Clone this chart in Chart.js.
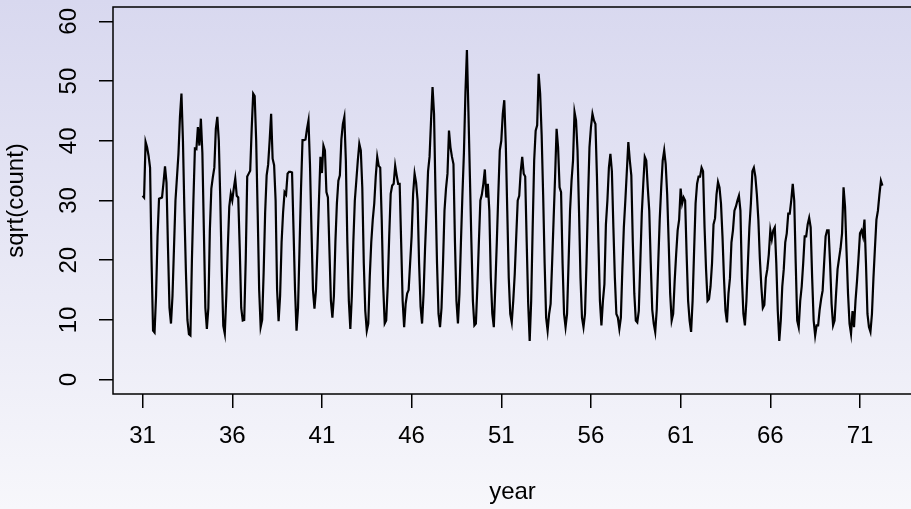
<!DOCTYPE html>
<html>
<head>
<meta charset="utf-8">
<script src="https://cdn.jsdelivr.net/npm/chart.js@4/dist/chart.umd.min.js"></script>
<style>
	html, body {
		margin: 0;
		padding: 0;
		width: 911px;
		height: 509px;
		overflow: hidden;
		background: linear-gradient(to bottom, #d8d8ef 0%, #f7f7fb 100%);
	}
	canvas {
		display: block;
	}
</style>
</head>
<body>
<canvas id="canvas-element" width="913" height="509"></canvas>
<script>
// monthly sqrt(count), Jan 1931 .. Apr 1972
const kStartYear = 31;
const kSqrt1930s = [
	30.8, 30.5, 39.8, 38.9, 37.5, 35.5, 20, 8.2, 7.9, 14, 24, 30.3,
	30.4, 30.5, 33, 35.7, 33, 22, 12, 9.4, 14, 22, 30, 33.9,
	37.8, 44, 47.9, 40, 28, 18, 10, 7.6, 7.4, 20, 30, 38.7,
	38.6, 42.3, 39.2, 43.7, 38, 25, 12, 8.5, 12, 25, 32, 33.9,
	35.5, 42, 44, 40, 30, 18, 9, 7.7, 14, 22, 29, 31.1,
	30, 32, 33.7, 30.8, 30.5, 22, 12, 9.9, 10, 20, 34, 34.5,
	35, 42, 47.9, 47.5, 40, 28, 15, 8.8, 10, 18, 28, 34.2,
	36, 40, 44.5, 37, 35.9, 30, 15, 9.8, 14, 23, 28, 31.4,
	31, 34.5, 34.8, 34.8, 34.7, 25, 15, 8.2, 12, 22, 32, 40.1
];
const kSqrt1940s = [
	40.1, 40.2, 42, 43.4, 36, 25, 15, 11.9, 15, 22, 30, 37.3,
	34.6, 39.2, 38.4, 31.4, 30.5, 21.8, 13.2, 10.4, 14, 23, 29.5, 33.3,
	34.2, 40.2, 42.8, 44, 36.7, 23, 13.2, 8.5, 14, 23, 30, 33.3,
	36.7, 39.5, 38.4, 32.2, 19.5, 11.5, 8.2, 9.4, 17.3, 23, 26.8, 29.5,
	34, 37.3, 35.8, 35.5, 26.8, 15.6, 9.4, 9.9, 15.6, 24, 31.1, 32.5,
	32.8, 35.8, 34.2, 32.8, 32.8, 23, 13.2, 8.8, 12.7, 14.4, 15, 19.5,
	24, 31.1, 34.5, 33, 30, 19.5, 12.2, 9.4, 14.4, 22, 28.3, 34.9,
	37.3, 43.4, 49, 44.5, 31, 19.5, 11, 8.8, 12, 19.5, 28.3, 32,
	34.5, 41.7, 38.9, 37.3, 36.1, 23, 13.2, 9.4, 14.4, 23, 31, 38,
	48, 55.2, 45, 34, 23, 13.2, 9.1, 9.4, 15.6, 23, 30, 31
];
const kSqrt1950s = [
	32.8, 35.2, 30.5, 32.8, 28.3, 17, 11, 8.8, 15.6, 23, 31, 38.4,
	40, 44.5, 46.8, 39.5, 28.3, 17, 11, 9.6, 13.2, 17.7, 24, 30,
	30.8, 34.9, 37.3, 34.5, 34, 23, 12.7, 6.5, 13.2, 25.5, 36.7, 41.7,
	42.6, 51.2, 47.9, 41, 31, 19.5, 10.4, 8.2, 11, 12.7, 19.5, 26.8,
	34, 42, 38.9, 32.2, 31.4, 19.5, 11, 8.8, 11, 19.5, 28.3, 33.3,
	36.7, 44.8, 43.4, 38.4, 28.3, 17, 10.4, 8.8, 11, 19.5, 30, 38.9,
	42.3, 44.5, 43.4, 42.8, 34, 23, 13.2, 9.1, 13.2, 16, 26, 30,
	35.5, 37.8, 34.9, 25.5, 17, 11, 10.4, 8.5, 10.4, 18.5, 25.5, 30,
	34.9, 39.8, 36.7, 34.2, 23, 14.4, 9.9, 9.6, 11.5, 19.5, 27.8, 32.8,
	37.3, 36.7, 32.2, 28.3, 19.5, 11.7, 9.4, 8, 11.7, 19.5, 26.8, 32.2
];
const kSqrt1960s = [
	36.7, 38.4, 36.1, 31, 23, 14.4, 9.9, 11, 16.5, 21, 25, 26.8,
	32, 29.5, 30.5, 30, 21, 13.2, 9.9, 8, 13.2, 21.5, 29.5, 32.8,
	34, 34, 35.5, 34.9, 25.5, 18.5, 13.2, 13.5, 15.6, 19.5, 26, 27,
	31, 33.1, 32.2, 29.5, 24, 17, 11.5, 9.6, 14.4, 17, 23, 25,
	28.3, 29, 30, 30.8, 28.3, 17, 11, 9.1, 13.2, 19.5, 25.5, 29.5,
	34.9, 35.5, 34, 31, 26.8, 20.3, 15.6, 12, 12.5, 17, 18.5, 21,
	25, 23.5, 25, 25.5, 19.5, 11.5, 6.5, 9.9, 15.6, 18.5, 23, 24.5,
	27.8, 27.8, 30, 32.8, 30, 19.5, 9.9, 8.8, 13.2, 15.6, 19.5, 24,
	24, 26, 27.1, 25.5, 17, 9.9, 7.4, 9.1, 9.1, 11.7, 13.5, 14.9,
	19.5, 24, 25, 25, 19.5, 12.7, 9.1, 9.9, 14.4, 18.5, 20.3, 22
];
const kSqrt1970s = [
	24.5, 32.2, 29, 21.5, 14.4, 9.4, 7.7, 11.5, 8.8, 13.2, 16.5, 20.3,
	24.5, 25, 24, 26.8, 19.5, 11, 8.8, 8, 11, 17, 22, 26.8,
	28.3, 31, 33.3, 32.5
];
const kXTicks = [31, 36, 41, 46, 51, 56, 61, 66, 71];
const kYTicks = [0, 10, 20, 30, 40, 50, 60];

const kFont = "'Liberation Sans', Arial, Helvetica, sans-serif";

const boxPlugin = {
	id: "box",
	afterDraw: (chart) => {
		const {ctx, chartArea} = chart;
		ctx.save();
		ctx.strokeStyle = "#000";
		ctx.lineWidth = 1.5;
		ctx.strokeRect(chartArea.left, chartArea.top, chartArea.right - chartArea.left, chartArea.bottom - chartArea.top);
		ctx.restore();
	}
};

function renderChart() {
	const values = [].concat(kSqrt1930s, kSqrt1940s, kSqrt1950s, kSqrt1960s, kSqrt1970s);
	const points = values.map((v, i) => ({x: kStartYear + i / 12, y: v}));
	const context = document.getElementById("canvas-element").getContext("2d");

	return new Chart(context, {
		type: "line",
		data: {
			datasets: [{
				data: points,
				borderColor: "#000",
				borderWidth: 2.2,
				pointRadius: 0,
				tension: 0,
				fill: false
			}]
		},
		options: {
			animation: false,
			responsive: false,
			events: [],
			layout: {padding: {top: 7, right: 1, left: 0, bottom: 0}},
			plugins: {
				legend: {display: false},
				tooltip: {enabled: false}
			},
			scales: {
				x: {
					type: "linear",
					min: 29.35,
					max: 73.9,
					afterBuildTicks: (scale) => {
						scale.ticks = kXTicks.map(v => ({value: v}));
					},
					afterFit: (scale) => {
						scale.height = 115;
						scale.paddingLeft = 0;
						scale.paddingRight = 0;
					},
					border: {display: false},
					grid: {drawOnChartArea: false, drawTicks: true, tickLength: 14, lineWidth: 1.5, color: "#000"},
					ticks: {color: "#000", font: {family: kFont, size: 24}, padding: 14, maxRotation: 0, autoSkip: false},
					title: {display: true, text: "year", color: "#000", font: {family: kFont, size: 24}, padding: {top: 0, bottom: 2}}
				},
				y: {
					type: "linear",
					min: -2.4,
					max: 62.4,
					afterBuildTicks: (scale) => {
						scale.ticks = kYTicks.map(v => ({value: v}));
					},
					afterFit: (scale) => {
						scale.width = 113;
						scale.paddingTop = 0;
						scale.paddingBottom = 0;
					},
					border: {display: false},
					grid: {drawOnChartArea: false, drawTicks: true, tickLength: 14, lineWidth: 1.5, color: "#000"},
					ticks: {color: "#000", font: {family: kFont, size: 24}, padding: 16, minRotation: 90, maxRotation: 90, crossAlign: "center", autoSkip: false},
					title: {display: true, text: "sqrt(count)", color: "#000", font: {family: kFont, size: 24}, padding: {top: 2, bottom: 0}}
				}
			}
		},
		plugins: [boxPlugin]
	});
}

renderChart();
</script>
</body>
</html>
